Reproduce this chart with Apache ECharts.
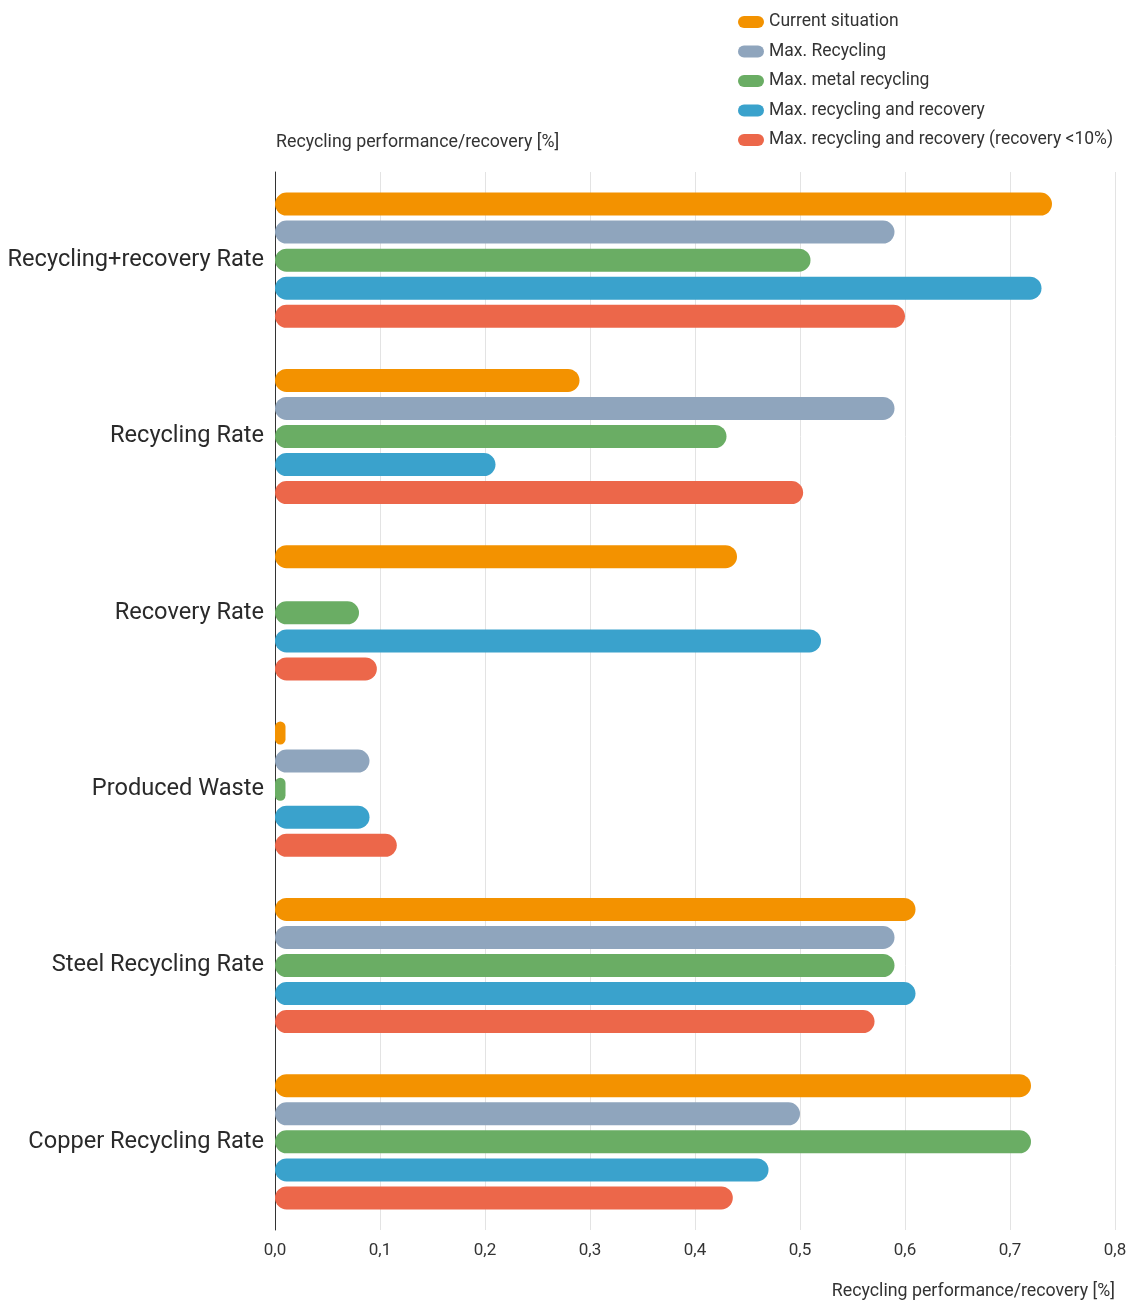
<!DOCTYPE html>
<html><head><meta charset="utf-8">
<script src="https://cdn.jsdelivr.net/npm/echarts@6/dist/echarts.min.js"></script>
<style>html,body{margin:0;padding:0;background:#fff}#c{width:1139px;height:1302px}</style>
</head><body><div id="c"></div>
<script>
const categories = ['Recycling+recovery Rate','Recycling Rate','Recovery Rate','Produced Waste','Steel Recycling Rate','Copper Recycling Rate'];
const seriesNames = ['Current situation','Max. Recycling','Max. metal recycling','Max. recycling and recovery','Max. recycling and recovery (recovery <10%)'];
const currentSituation = [0.74, 0.29, 0.44, 0.01, 0.61, 0.72];
const maxRecycling = [0.59, 0.59, null, 0.09, 0.59, 0.50];
const maxMetalRecycling = [0.51, 0.43, 0.08, 0.01, 0.59, 0.72];
const maxRecyclingRecovery = [0.73, 0.21, 0.52, 0.09, 0.61, 0.47];
const maxRecyclingRecovery10 = [0.60, 0.503, 0.097, 0.116, 0.571, 0.436];
const colors = ['#f39200','#8fa5bd','#6aad64','#3aa2cc','#ec674a'];
const axisTitle = 'Recycling performance/recovery [%]';

const allData = [currentSituation, maxRecycling, maxMetalRecycling, maxRecyclingRecovery, maxRecyclingRecovery10];
const font = 'Roboto, "Open Sans", sans-serif';
const chart = echarts.init(document.getElementById('c'));
chart.setOption({
  animation: false,
  color: colors,
  textStyle: {fontFamily: font},
  legend: {
    orient: 'vertical', left: 733, top: 7, itemWidth: 26, itemHeight: 12, itemGap: 9.5,
    icon: 'path://M6,0 H20 A6,6 0 0 1 20,12 H6 A6,6 0 0 1 6,0 Z',
    textStyle: {fontSize: 17.5, lineHeight: 20, color: '#333', fontFamily: font},
    data: seriesNames
  },
  grid: {left: 275, right: 24, top: 172, bottom: 72},
  xAxis: {
    type: 'value', min: 0, max: 0.8, interval: 0.1,
    axisLine: {show: false}, axisTick: {show: false},
    splitLine: {lineStyle: {color: '#e3e3e3', width: 1}},
    axisLabel: {fontSize: 17, color: '#333', margin: 12, formatter: v => v.toFixed(1).replace('.', ',')}
  },
  yAxis: {
    type: 'category', data: categories, inverse: true,
    axisLine: {show: true, lineStyle: {color: '#333', width: 1}},
    axisTick: {show: false},
    axisLabel: {fontSize: 23.6, color: '#2a2a2a', margin: 11}
  },
  graphic: [
    {type: 'text', left: 276, top: 134, style: {text: axisTitle, fontSize: 17.8, fill: '#333', fontFamily: font}},
    {type: 'text', right: 24, top: 1283, style: {text: axisTitle, fontSize: 17.8, fill: '#333', fontFamily: font}}
  ],
  series: seriesNames.map((n, i) => ({
    name: n, type: 'bar', data: allData[i], barWidth: 23, barGap: '22%',
    itemStyle: {borderRadius: 11.5}
  }))
});
</script></body></html>
